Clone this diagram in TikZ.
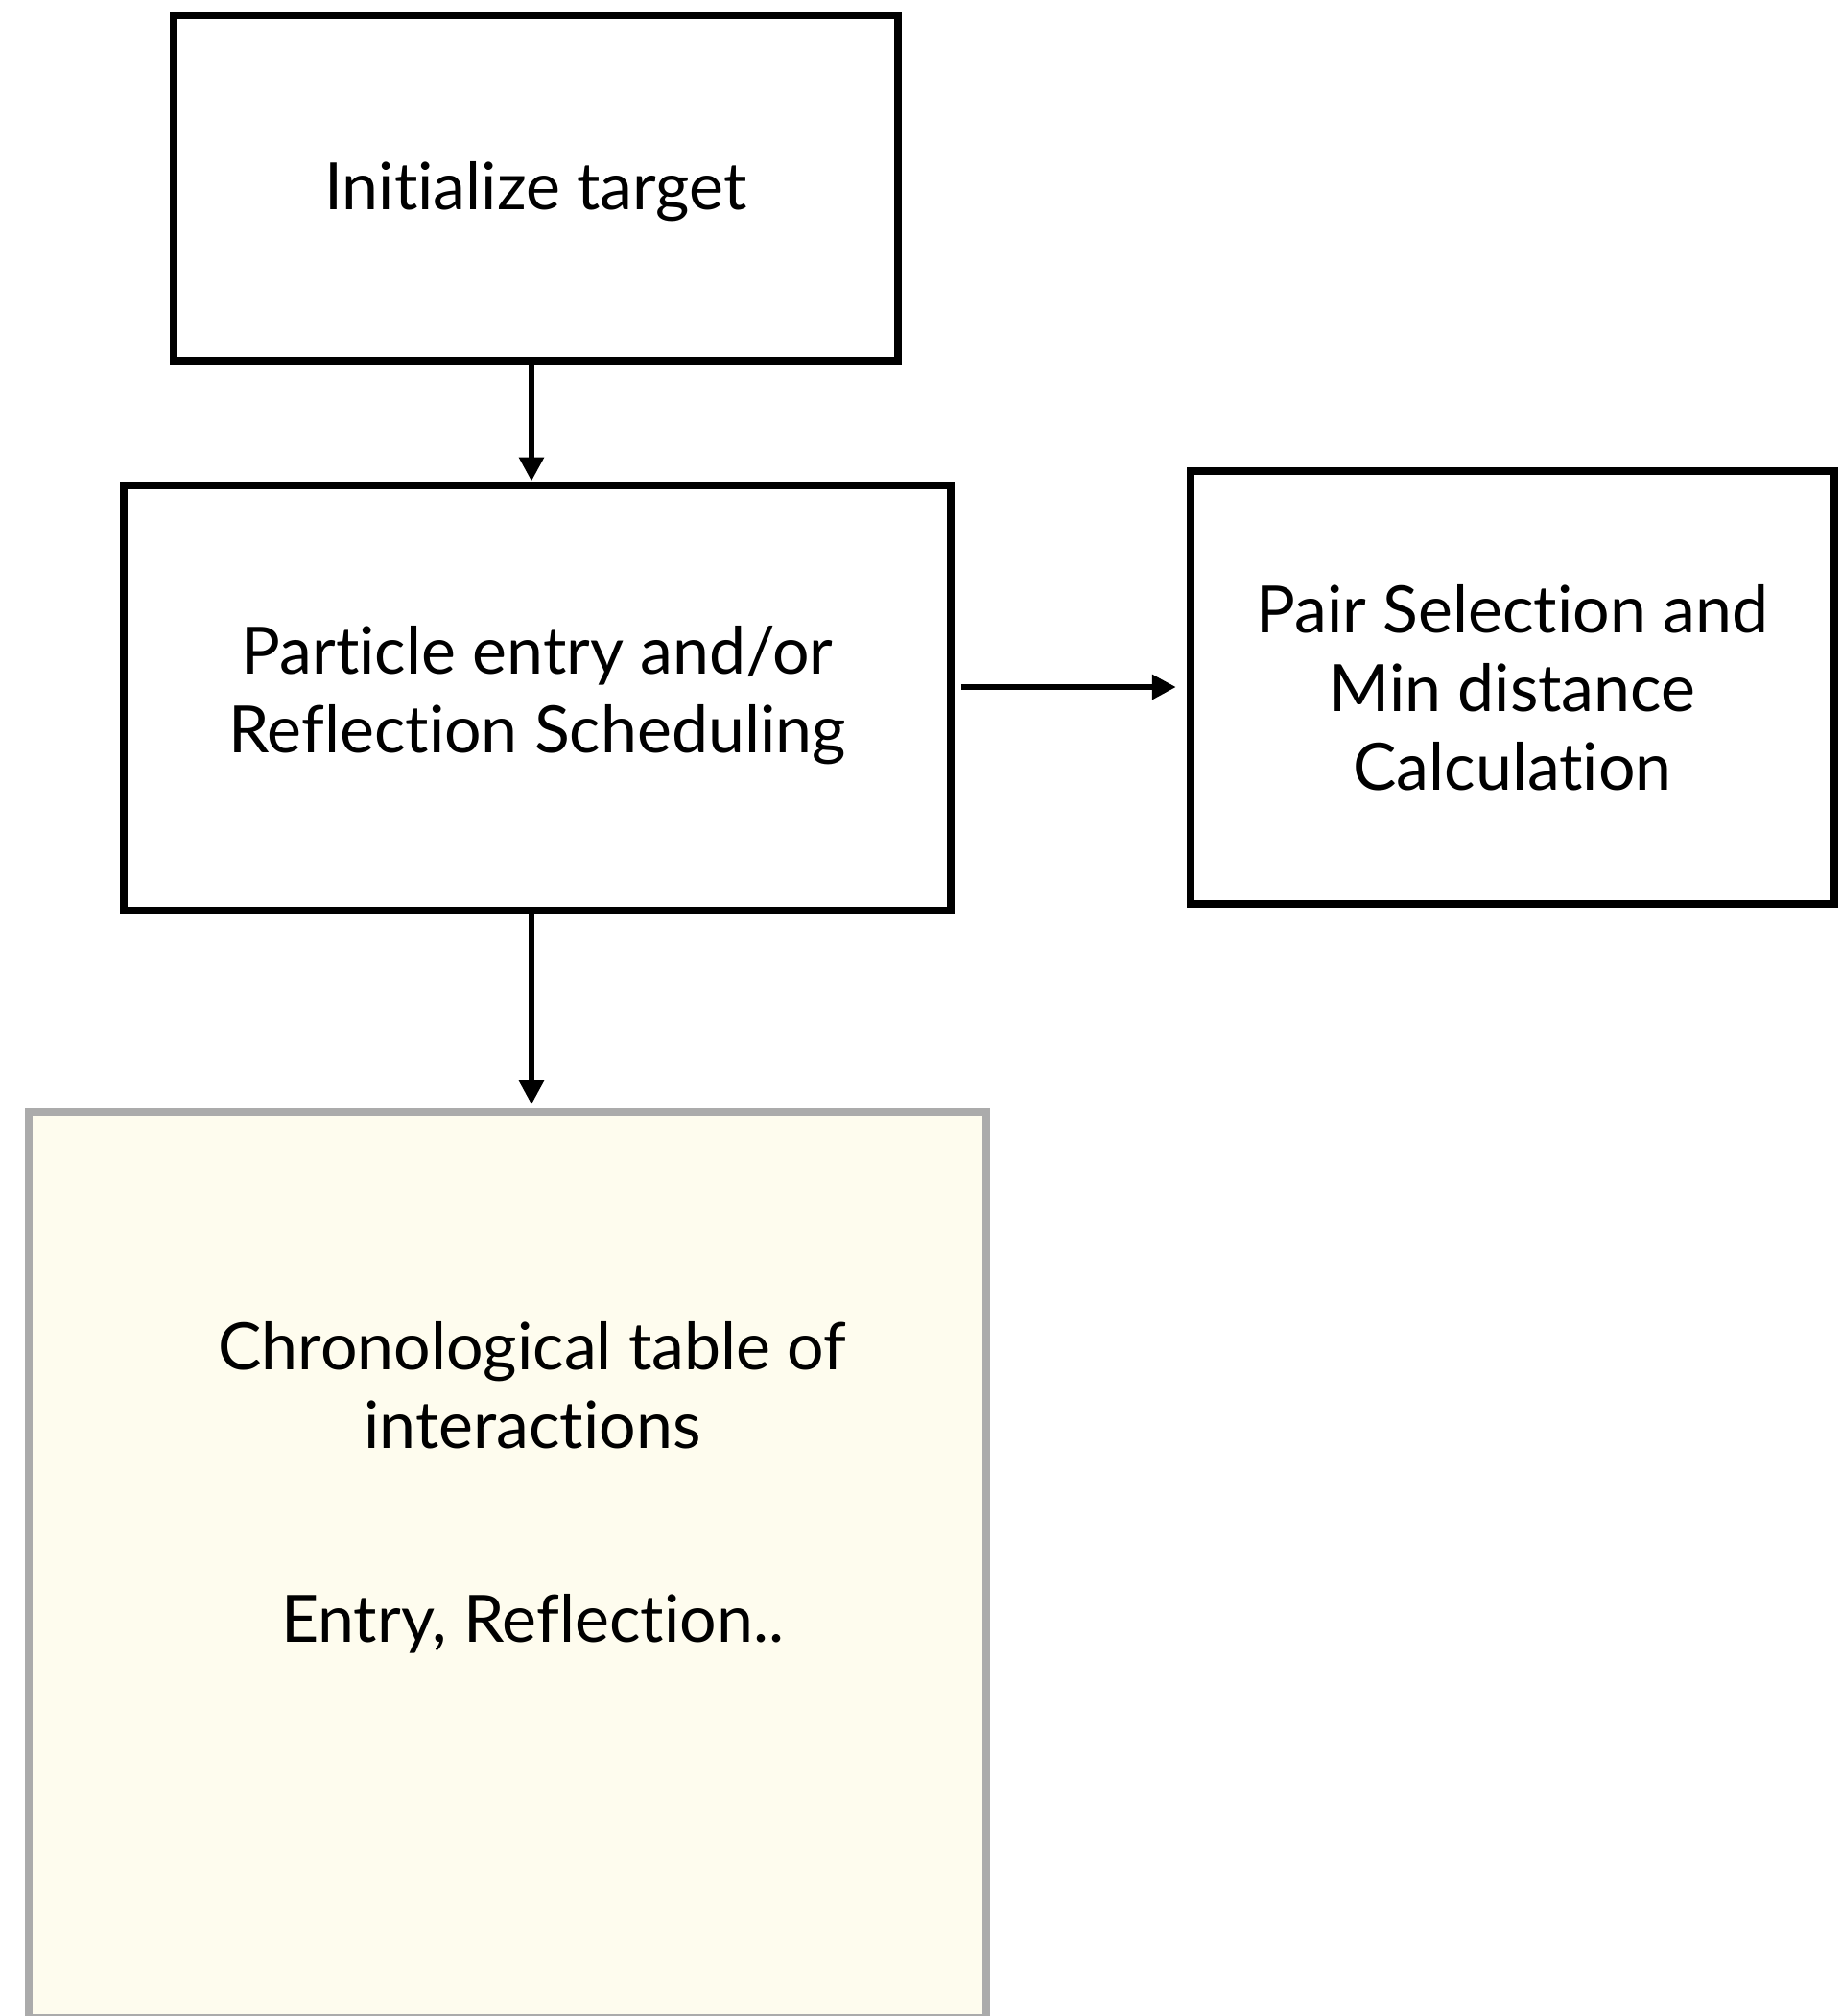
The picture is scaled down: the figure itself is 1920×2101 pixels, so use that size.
\documentclass[tikz,border=0pt]{standalone}
\usepackage{fontspec}
\setmainfont{Lato}[RawFeature={-liga}]
\usetikzlibrary{arrows.meta}

\definecolor{notefill}{RGB}{254,252,238}
\definecolor{noteedge}{RGB}{171,171,171}

\begin{document}
\begin{tikzpicture}[x=0.5pt,y=-0.5pt,
  boxfont/.style={font=\fontsize{34}{41}\selectfont},
  stepbox/.style={draw=black, line width=4pt, rectangle, inner sep=0pt,
    outer sep=0pt, align=center, boxfont},
  notebox/.style={draw=noteedge, fill=notefill, line width=4pt, rectangle,
    inner sep=0pt, outer sep=0pt},
  flow/.style={draw=black, line width=3pt,
    -{Triangle[length=12.5pt,width=12.5pt]}},
]
\useasboundingbox (0,0) rectangle (1920,2101);

% process boxes
\node[stepbox, text depth=3pt, minimum width=377.6pt, minimum height=180.3pt]
  (init) at (558.4,196) {Initialize target};
\node[stepbox, text depth=9pt, minimum width=430.8pt, minimum height=221.9pt]
  (entry) at (560,727.4) {Particle entry and/or\\Reflection Scheduling};
\node[stepbox, minimum width=335.6pt, minimum height=225.5pt]
  (pair) at (1576.4,716.5) {Pair Selection and\\Min distance\\Calculation};

% event table
\node[notebox, minimum width=499.3pt, minimum height=472pt]
  (table) at (529,1631) {};
\node[boxfont, align=center, anchor=base, inner sep=0pt]
  (tabletext) at (555,1711)
  {Chronological table of\\interactions\\[60pt]Entry, Reflection..};

% connector guides
\coordinate (axis) at (554,0);
\coordinate (row) at (0,716);

% connectors
\draw[flow, shorten >=2pt] (init.south -| axis) -- (entry.north -| axis);
\draw[flow, shorten >=4pt] (entry.south -| axis) -- (table.north -| axis);
\draw[flow, shorten <=5.5pt, shorten >=7.5pt] (entry.east |- row) -- (pair.west |- row);
\end{tikzpicture}
\end{document}
